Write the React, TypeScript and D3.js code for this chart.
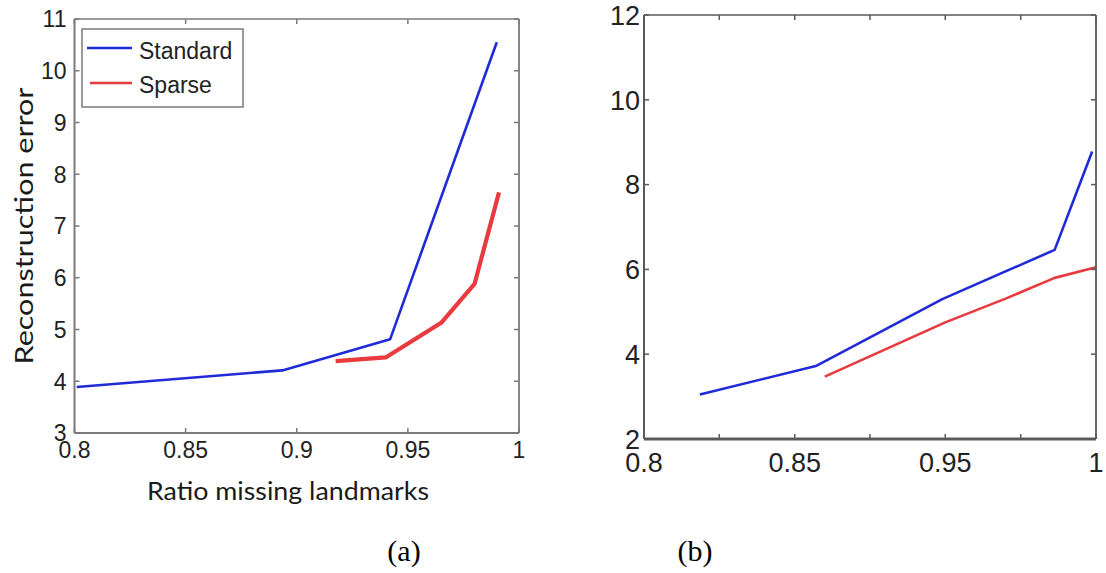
import React from "react";
import * as d3 from "d3";

// ---------- data ----------
// Panel (a)
const A_X_TICKS = [0.8, 0.85, 0.9, 0.95, 1];
const A_X_LABELS = ["0.8", "0.85", "0.9", "0.95", "1"];
const A_Y_TICKS = [3, 4, 5, 6, 7, 8, 9, 10, 11];
const A_STANDARD_X = [0.801, 0.8935, 0.942, 0.99];
const A_STANDARD_Y = [3.89, 4.21, 4.81, 10.55];
const A_SPARSE_X = [0.9175, 0.94, 0.965, 0.98, 0.991];
const A_SPARSE_Y = [4.39, 4.46, 5.13, 5.88, 7.65];
const LEGEND = ["Standard", "Sparse"];

// Panel (b)
const B_X_TICKS = [0.8, 0.8333, 0.8667, 0.9, 0.9333, 0.9667, 1];
const B_X_LABELS = ["0.8", "", "0.85", "", "0.95", "", "1"];
const B_Y_TICKS = [2, 4, 6, 8, 10, 12];
const B_STANDARD_X = [0.8247, 0.876, 0.932, 0.9817, 0.9983];
const B_STANDARD_Y = [3.05, 3.72, 5.3, 6.46, 8.78];
const B_SPARSE_X = [0.88, 0.9333, 0.96, 0.9817, 1.0];
const B_SPARSE_Y = [3.47, 4.75, 5.31, 5.8, 6.05];

const CAPTIONS = ["(a)", "(b)"];

const BLUE = "#1f2bd6";
const RED = "#e83a3f";

type Pt = [number, number];
const zip = (xs: number[], ys: number[]): Pt[] => xs.map((x, i) => [x, ys[i]]);

function Panel(props: {
  x0: number; x1: number; y0: number; y1: number;
  xDomain: [number, number]; yDomain: [number, number];
  xTicks: number[]; xLabels: string[]; yTicks: number[];
  tickFont: number; xLabelBaseline: number; yLabelGap: number;
  frameColor: string; bottomWidth: number; leftWidth: number;
  series: { pts: Pt[]; color: string; width: number }[];
}) {
  const { x0, x1, y0, y1 } = props;
  const x = d3.scaleLinear().domain(props.xDomain).range([x0, x1]);
  const y = d3.scaleLinear().domain(props.yDomain).range([y1, y0]);
  const line = d3.line<Pt>().x((d) => x(d[0])).y((d) => y(d[1]));
  const tl = 5;
  return (
    <g>
      {props.series.map((s, i) => (
        <path key={i} d={line(s.pts) || ""} fill="none" stroke={s.color}
          strokeWidth={s.width} strokeLinejoin="round" strokeLinecap="butt" />
      ))}
      {/* frame */}
      <line x1={x0} x2={x1} y1={y0} y2={y0} stroke={props.frameColor} strokeWidth={1.6} />
      <line x1={x1} x2={x1} y1={y0} y2={y1} stroke={props.frameColor} strokeWidth={1.8} />
      <line x1={x0} x2={x1} y1={y1} y2={y1} stroke={props.frameColor} strokeWidth={props.bottomWidth} />
      <line x1={x0} x2={x0} y1={y0} y2={y1} stroke={props.frameColor} strokeWidth={props.leftWidth} />
      {/* ticks */}
      {props.xTicks.map((t, i) => (
        <g key={"xt" + i}>
          <line x1={x(t)} x2={x(t)} y1={y0} y2={y0 + tl} stroke={props.frameColor} strokeWidth={1.5} />
          <line x1={x(t)} x2={x(t)} y1={y1} y2={y1 - tl} stroke={props.frameColor} strokeWidth={1.5} />
          <text x={x(t)} y={props.xLabelBaseline} textAnchor="middle"
            fontFamily="Liberation Sans, Arial, sans-serif" fontSize={props.tickFont} fill="#222">
            {props.xLabels[i]}
          </text>
        </g>
      ))}
      {props.yTicks.map((t, i) => (
        <g key={"yt" + i}>
          <line x1={x0} x2={x0 + tl} y1={y(t)} y2={y(t)} stroke={props.frameColor} strokeWidth={1.5} />
          <line x1={x1} x2={x1 - tl} y1={y(t)} y2={y(t)} stroke={props.frameColor} strokeWidth={1.5} />
          <text x={x0 - props.yLabelGap} y={y(t)} dy="0.36em" textAnchor="end"
            fontFamily="Liberation Sans, Arial, sans-serif" fontSize={props.tickFont} fill="#222">
            {String(t)}
          </text>
        </g>
      ))}
    </g>
  );
}

export default function App() {
  const W = 1106, H = 573;
  return (
    <svg width={W} height={H} viewBox={`0 0 ${W} ${H}`}
      style={{ position: "absolute", left: 0, top: 0, background: "#fff" }}>
      <rect x={0} y={0} width={W} height={H} fill="#fff" />
      <Panel x0={74.5} x1={519} y0={19} y1={433}
        xDomain={[0.8, 1]} yDomain={[3, 11]}
        xTicks={A_X_TICKS} xLabels={A_X_LABELS} yTicks={A_Y_TICKS}
        tickFont={23} xLabelBaseline={458} yLabelGap={8}
        frameColor="#7a7a7a" bottomWidth={2} leftWidth={2}
        series={[
          { pts: zip(A_STANDARD_X, A_STANDARD_Y), color: BLUE, width: 2.6 },
          { pts: zip(A_SPARSE_X, A_SPARSE_Y), color: RED, width: 4.2 },
        ]} />
      {/* legend */}
      <rect x={82} y={29} width={161} height={78} fill="#fff" stroke="#7a7a7a" strokeWidth={1.5} />
      <line x1={87} x2={132} y1={48} y2={48} stroke={BLUE} strokeWidth={2.6} />
      <line x1={90} x2={132} y1={83} y2={83} stroke={RED} strokeWidth={2.6} />
      <text x={139} y={59} fontFamily="Liberation Sans, Arial, sans-serif" fontSize={23} fill="#222">{LEGEND[0]}</text>
      <text x={139} y={93} fontFamily="Liberation Sans, Arial, sans-serif" fontSize={23} fill="#222">{LEGEND[1]}</text>
      {/* axis labels (a) */}
      <text x={288} y={500} textAnchor="middle" fontFamily="Lato, sans-serif" fontSize={25} fill="#1a1a1a"
        textLength={282} lengthAdjust="spacingAndGlyphs">Ratio missing landmarks</text>
      <text transform="translate(33,226) rotate(-90)" textAnchor="middle" fontFamily="Lato, sans-serif"
        fontSize={25} fill="#1a1a1a" textLength={277} lengthAdjust="spacingAndGlyphs">Reconstruction error</text>

      <Panel x0={644} x1={1096} y0={15} y1={439}
        xDomain={[0.8, 1]} yDomain={[2, 12]}
        xTicks={B_X_TICKS} xLabels={B_X_LABELS} yTicks={B_Y_TICKS}
        tickFont={27} xLabelBaseline={472} yLabelGap={4}
        frameColor="#5a5a5a" bottomWidth={3} leftWidth={2}
        series={[
          { pts: zip(B_STANDARD_X, B_STANDARD_Y), color: BLUE, width: 2.6 },
          { pts: zip(B_SPARSE_X, B_SPARSE_Y), color: RED, width: 2.6 },
        ]} />

      <text x={404} y={561} textAnchor="middle" fontFamily="Liberation Serif, Times New Roman, serif" fontSize={30} fill="#000">{CAPTIONS[0]}</text>
      <text x={695} y={561} textAnchor="middle" fontFamily="Liberation Serif, Times New Roman, serif" fontSize={30} fill="#000">{CAPTIONS[1]}</text>
    </svg>
  );
}
